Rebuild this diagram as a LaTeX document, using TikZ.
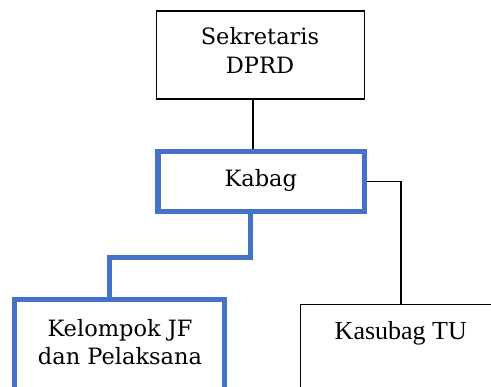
\documentclass[tikz,border=0pt]{standalone}
\usepackage{fontspec}
\setmainfont{DejaVu Serif}
\newfontfamily\tnrfont{Liberation Serif}
\usetikzlibrary{calc}
\definecolor{orgblue}{HTML}{4472C4}
\begin{document}
\begin{tikzpicture}[x=1pt,y=-1pt,
  plainbox/.style={draw=black, line width=1.8pt, rectangle, inner sep=0pt},
  bluebox/.style={draw=orgblue, line width=5.5pt, rectangle, inner sep=0pt},
  boxtext/.style={font=\fontsize{22.5}{28.5}\selectfont, align=center, inner sep=0pt},
  link/.style={draw=black, line width=1.8pt},
  bluelink/.style={draw=orgblue, line width=5pt}
]
\useasboundingbox (0,0) rectangle (491,387);
\clip (0,0) rectangle (491,387);

% boxes
\node[plainbox, minimum width=208, minimum height=87.5] (sek) at (260.5,55) {};
\node[boxtext] (sektext) at (260,50.6) {Sekretaris\\DPRD};

\node[bluebox, minimum width=206.5, minimum height=60] (kabag) at (261.3,181.6) {};
\node[boxtext, anchor=base] (kabagtext) at (260.8,186.7) {Kabag};

\node[bluebox, minimum width=210.2, minimum height=140] (kel) at (119.6,369.7) {};
\node[boxtext] (keltext) at (120,342) {Kelompok JF\\dan Pelaksana};

\node[plainbox, minimum width=200.5, minimum height=140] (kasub) at (400.75,374.5) {};
\node[boxtext, font=\tnrfont\fontsize{26}{30}\selectfont, anchor=base] (kasubtext) at (400.8,340) {Kasubag TU};

% connectors
\draw[link] ([xshift=-7.5pt]sek.south) -- ([xshift=-7.5pt]sek.south |- kabag.north);
\draw[bluelink] ([xshift=-10.5pt]kabag.south) -- ++(0,43.5) -| ([xshift=-10.4pt]kel.north);
\draw[link] (kabag.east) -| (kasub.north);
\end{tikzpicture}
\end{document}
